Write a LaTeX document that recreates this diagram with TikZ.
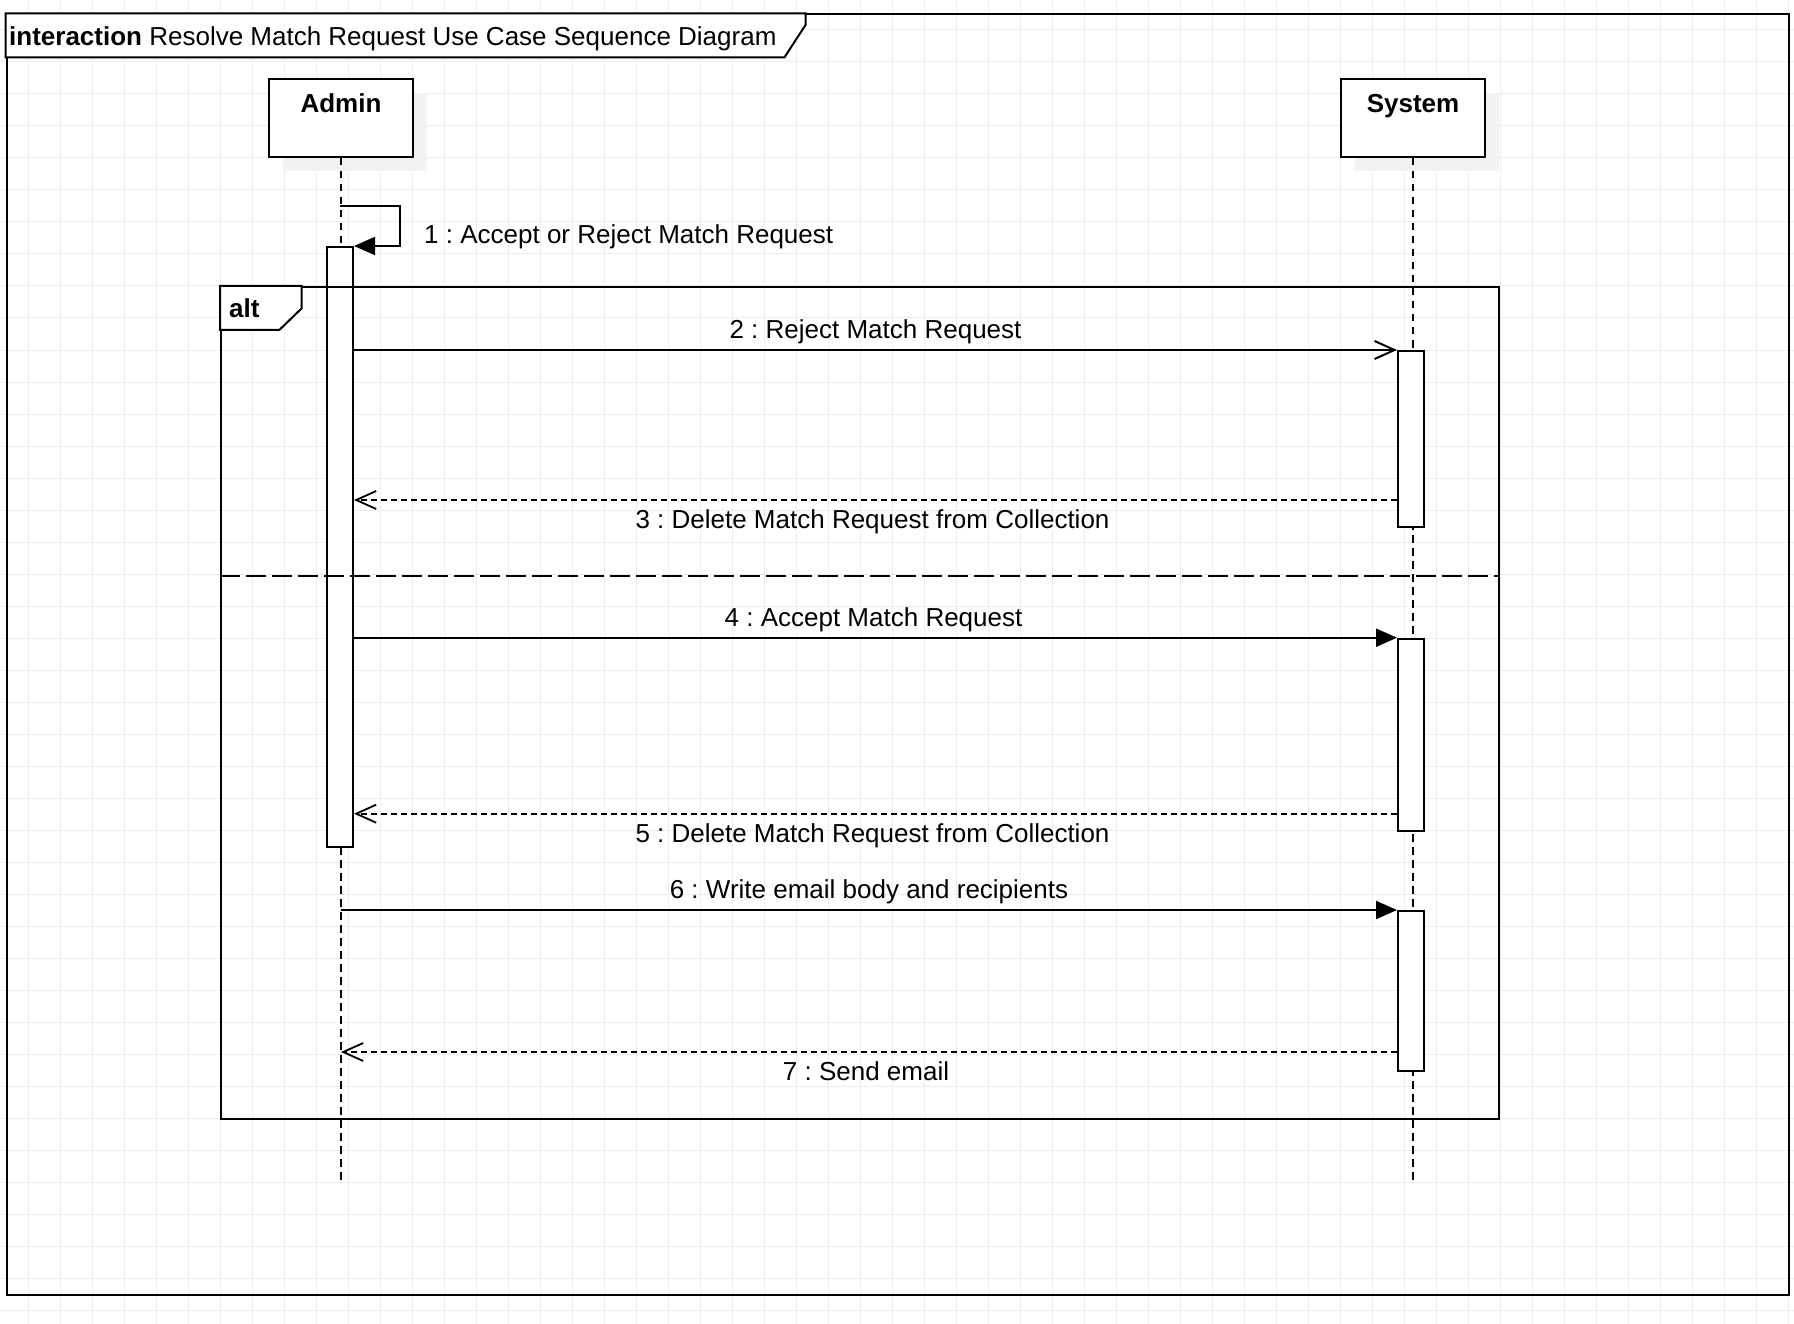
\documentclass[tikz,border=0pt]{standalone}
\usepackage{fontspec}
\setmainfont{Liberation Sans}
\usetikzlibrary{arrows.meta,shadows}

\definecolor{gridgray}{HTML}{EDEDED}
\definecolor{shadowgray}{HTML}{F2F2F2}

\begin{document}
\frenchspacing
\begin{tikzpicture}[x=1pt,y=-1pt,
  txt/.style={font=\fontsize{26}{31}\selectfont, inner sep=0pt},
  gridline/.style={draw=gridgray, line width=1pt},
  framebox/.style={draw, line width=2pt, inner sep=0pt, rectangle},
  actorbox/.style={draw, fill=white, line width=2pt, inner sep=0pt, rectangle,
    minimum height=78.3pt,
    general shadow={fill=shadowgray, shadow xshift=14pt, shadow yshift=-14pt}},
  activation/.style={draw, fill=white, line width=2pt, inner sep=0pt, rectangle, minimum width=26pt},
  lifeline/.style={line width=2pt, dash pattern=on 7.5pt off 5.5pt},
  separator/.style={line width=2pt, dash pattern=on 20pt off 6pt},
  call/.style={line width=2pt, -{Triangle[length=21pt,width=18pt]}},
  async/.style={line width=2pt, -{Straight Barb[length=20pt,width=18pt]}},
  reply/.style={line width=1.8pt, dash pattern=on 6pt off 4pt, -{Straight Barb[length=20pt,width=18pt]}},
  lblup/.style={txt, anchor=base, yshift=11.7pt},
  lbldown/.style={txt, anchor=base, yshift=-28.9pt}]

\useasboundingbox (0,0) rectangle (1794,1324);
\fill[white] (0,0) rectangle (1794,1324);

% background grid
\foreach \i in {0,...,55} \draw[gridline] (28.5+32*\i,0) -- (28.5+32*\i,1324);
\foreach \j in {0,...,40} \draw[gridline] (0,30+32*\j) -- (1794,30+32*\j);

% interaction frame and its name compartment
\node[framebox, minimum width=1782pt, minimum height=1280pt, anchor=north west] (sd) at (5.5,13.5) {};
\draw[line width=2pt, fill=white] (sd.north west) -- (805.5,13.5) -- (805.5,25) -- (784.5,57.3) -- (5.5,57.3) -- cycle;
\node[txt, anchor=base west] (title) at (9,45.3) {\textbf{interaction} Resolve Match Request Use Case Sequence Diagram};

% participants
\node[actorbox, minimum width=143.4pt, anchor=north west] (admin) at (268.3,77.7) {};
\node[txt, anchor=base, font=\fontsize{26}{31}\selectfont\bfseries] (adminname) at ([yshift=-35.1pt]admin.north) {Admin};
\node[actorbox, minimum width=144pt, anchor=north west] (system) at (1340,77.7) {};
\node[txt, anchor=base, font=\fontsize{26}{31}\selectfont\bfseries] (systemname) at ([yshift=-35.1pt]system.north) {System};

% lifelines
\coordinate (adminend) at (admin.south |- 0,1181.5);
\coordinate (systemend) at (system.south |- 0,1181.5);
\draw[lifeline] (admin.south) -- (adminend);
\draw[lifeline] (system.south) -- (systemend);

% execution specifications
\node[activation, minimum height=600pt, anchor=north] (a0) at (340,246) {};
\node[activation, minimum height=176pt, anchor=north] (s1) at (1411,350) {};
\node[activation, minimum height=191.8pt, anchor=north] (s2) at (1411,637.7) {};
\node[activation, minimum height=160pt, anchor=north] (s3) at (1411,910) {};

% alt combined fragment
\node[framebox, minimum width=1278.3pt, minimum height=831.7pt, anchor=north west] (alt) at (220,286) {};
\draw[line width=2pt, fill=white] (alt.north west) -- (301.7,286) -- (301.7,308.3) -- (279.3,330) -- (220,330) -- cycle;
\node[txt, anchor=base west, font=\fontsize{26}{31}\selectfont\bfseries] (altname) at (229,317.1) {alt};
\draw[separator] (alt.west |- 0,575.7) -- (alt.east |- 0,575.7);

% messages
\coordinate (m1start) at (340,205.7);
\draw[call] (m1start) -- (400,205.7) -- (400,246) -- (a0.north east);
\node[txt, anchor=base west] (m1label) at (424,243.1) {1 : Accept or Reject Match Request};

\draw[async] (s1.north west -| a0.east) -- node[lblup] {2 : Reject Match Request} (s1.north west);
\draw[reply] (s1.west |- 0,500) -- node[lbldown, xshift=-3pt] {3 : Delete Match Request from Collection} (a0.east |- 0,500);

\draw[call] (s2.north west -| a0.east) -- node[lblup, xshift=-2pt] {4 : Accept Match Request} (s2.north west);
\draw[reply] (s2.west |- 0,813.7) -- node[lbldown, xshift=-3pt] {5 : Delete Match Request from Collection} (a0.east |- 0,813.7);

\draw[call] (s3.north west -| admin.south) -- node[lblup] {6 : Write email body and recipients} (s3.north west);
\draw[reply] (s3.west |- 0,1052) -- node[lbldown, xshift=-3pt] {7 : Send email} (admin.south |- 0,1052);

\end{tikzpicture}
\end{document}
